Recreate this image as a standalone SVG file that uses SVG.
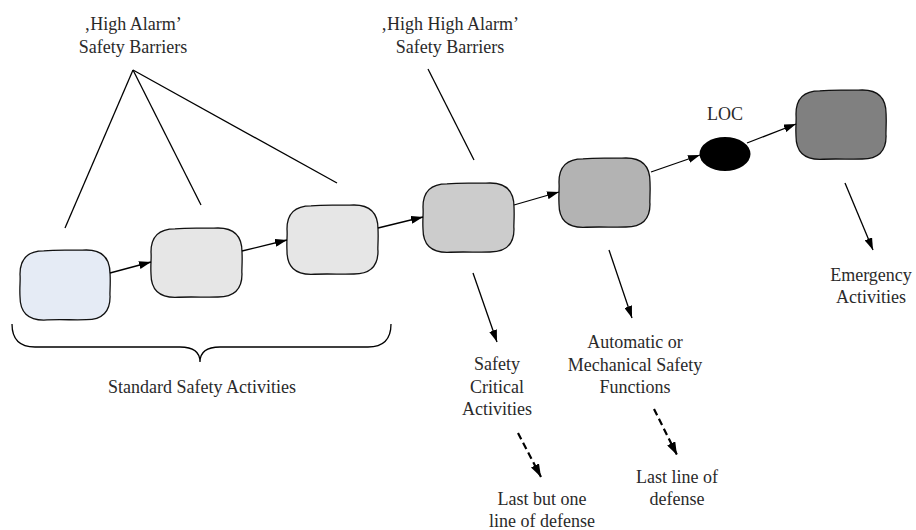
<svg xmlns="http://www.w3.org/2000/svg" xmlns:xlink="http://www.w3.org/1999/xlink" width="916" height="530" viewBox="0 0 916 530">
  <style>
    .lbl { font-family: "Liberation Serif", "Times New Roman", serif; font-size: 18px; fill: #2a2a2a; text-anchor: middle; }
    .box { stroke: #111; stroke-width: 1.3; }
    .line { stroke: #000; stroke-width: 1.3; fill: none; }
    .arrow { stroke: #000; stroke-width: 1.3; fill: none; marker-end: url(#head); }
    .dash { stroke: #000; stroke-width: 2.2; fill: none; stroke-dasharray: 7 4; marker-end: url(#headBig); }
  </style>
  <defs>
    <!-- hand-drawn looking rounded box, 91 x 69 -->
    <path id="blob" d="M24,0.8 C40,-0.6 55,0.6 67,0 Q91,0 91,24 C91.6,36 90.4,44 91,46 Q91,69 67,69 C55,69.6 40,68.4 24,69.4 Q0,69.4 0,46 C-0.6,36 0.6,31 0,24 Q0,0.8 24,0.8 Z"/>
    <marker id="head" viewBox="0 0 12 8" refX="12" refY="4" markerWidth="12" markerHeight="8" markerUnits="userSpaceOnUse" orient="auto">
      <path d="M0,0 L12,4 L0,8 Z" fill="#000"/>
    </marker>
    <marker id="headBig" viewBox="0 0 13 9" refX="13" refY="4.5" markerWidth="13" markerHeight="9" markerUnits="userSpaceOnUse" orient="auto">
      <path d="M0,0 L13,4.5 L0,9 Z" fill="#000"/>
    </marker>
  </defs>

  <!-- labels -->
  <g class="lbl">
    <g id="label-high-alarm">
      <text x="133" y="30">‚High Alarm’</text>
      <text x="133" y="53">Safety Barriers</text>
    </g>
    <g id="label-high-high-alarm">
      <text x="450" y="30">‚High High Alarm’</text>
      <text x="450" y="53">Safety Barriers</text>
    </g>
    <g id="label-loc"><text x="725" y="120">LOC</text></g>
    <g id="label-emergency">
      <text x="871" y="281">Emergency</text>
      <text x="871" y="303">Activities</text>
    </g>
    <g id="label-standard"><text x="202" y="393">Standard Safety Activities</text></g>
    <g id="label-critical">
      <text x="497" y="370">Safety</text>
      <text x="497" y="393">Critical</text>
      <text x="497" y="415">Activities</text>
    </g>
    <g id="label-automatic">
      <text x="635" y="348">Automatic or</text>
      <text x="635" y="371">Mechanical Safety</text>
      <text x="635" y="393">Functions</text>
    </g>
    <g id="label-last-line">
      <text x="677" y="483">Last line of</text>
      <text x="677" y="505">defense</text>
    </g>
    <g id="label-last-but-one">
      <text x="542" y="505">Last but one</text>
      <text x="542" y="527">line of defense</text>
    </g>
  </g>

  <!-- nodes -->
  <g id="node-1"><use xlink:href="#blob" class="box" fill="#e5ebf5" transform="translate(20,250) scale(0.99,1.01)"/></g>
  <g id="node-2"><use xlink:href="#blob" class="box" fill="#e6e6e6" transform="translate(151,228)"/></g>
  <g id="node-3"><use xlink:href="#blob" class="box" fill="#e6e6e6" transform="translate(287,205)"/></g>
  <g id="node-4"><use xlink:href="#blob" class="box" fill="#cccccc" transform="translate(423,183)"/></g>
  <g id="node-5"><use xlink:href="#blob" class="box" fill="#b3b3b3" transform="translate(559,158)"/></g>
  <g id="node-loc"><ellipse cx="725" cy="154" rx="25.5" ry="17" fill="#000"/></g>
  <g id="node-6"><use xlink:href="#blob" class="box" fill="#808080" transform="translate(796,90) scale(0.99,1)"/></g>

  <!-- connectors -->
  <g id="connectors">
    <path class="arrow" d="M110,273 L151,262"/>
    <path class="arrow" d="M242,251 L287,240"/>
    <path class="arrow" d="M378,228 L423,217"/>
    <path class="arrow" d="M514,205 L559,192"/>
    <path class="arrow" d="M651,172 L700,155"/>
    <path class="arrow" d="M747,143 L796,124"/>

    <path class="line" d="M133,70 L65,228"/>
    <path class="line" d="M133,70 L201,205"/>
    <path class="line" d="M133,70 L337,183"/>
    <path class="line" d="M428,69 L474,160"/>

    <path class="arrow" d="M473,273 L497,342"/>
    <path class="arrow" d="M609,250 L632,318"/>
    <path class="arrow" d="M845,183 L873,250"/>

    <path class="dash" d="M518,433 L541,477"/>
    <path class="dash" d="M654,409 L677,455"/>

    <path class="line" d="M12,324 Q12,347 35,347 L180,347 Q200,347 200,362 Q200,347 220,347 L368,347 Q391,347 391,324"/>
  </g>
</svg>
